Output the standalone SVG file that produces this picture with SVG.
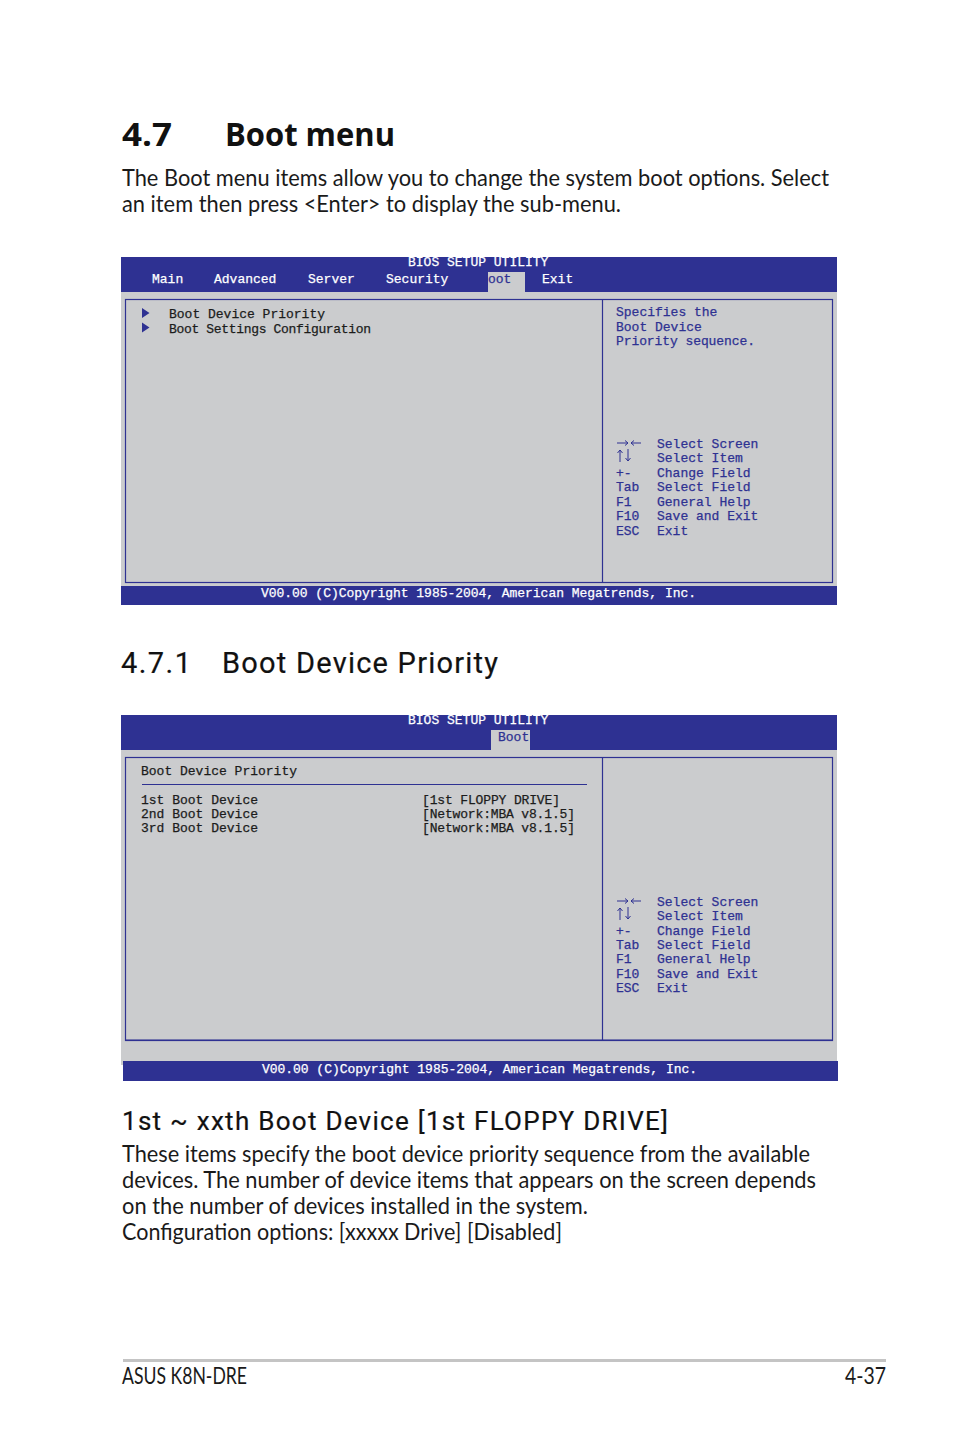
<svg xmlns="http://www.w3.org/2000/svg" width="954" height="1438" viewBox="0 0 954 1438">
<style>
.h1{font:700 32px "Open Sans","Noto Sans",sans-serif;fill:#111}
.h2{font:400 29px "Roboto","Noto Sans",sans-serif;fill:#111;stroke:#111;stroke-width:.2}
.h3{font:400 26px "Roboto","Noto Sans",sans-serif;fill:#111;stroke:#111;stroke-width:.2}
.b{font:400 22.5px "Lato","Noto Sans",sans-serif;fill:#1a1a1a}
.m{font:400 13px "Liberation Mono",monospace;stroke-width:.25}
.w{fill:#fff;stroke:#fff}.k{fill:#1c1c1c;stroke:#1c1c1c}.u{fill:#2e3192;stroke:#2e3192}
.blue{fill:#2e3192}.grey{fill:#cbccce}
.box{fill:none;stroke:#2e3192;stroke-width:1.2}
.a{fill:none;stroke:#2e3192;stroke-width:1}
</style>
<g id="page-text">
<text class="h1" x="122" y="146" textLength="50" lengthAdjust="spacingAndGlyphs">4.7</text>
<text class="h1" x="225" y="146" textLength="170" lengthAdjust="spacingAndGlyphs">Boot menu</text>
<text class="b" x="122" y="186" textLength="707" lengthAdjust="spacingAndGlyphs">The Boot menu items allow you to change the system boot options. Select</text>
<text class="b" x="122" y="212" textLength="499" lengthAdjust="spacingAndGlyphs">an item then press &lt;Enter&gt; to display the sub-menu.</text>
<text class="h2" x="121" y="673" textLength="70" lengthAdjust="spacing">4.7.1</text>
<text class="h2" x="222" y="673" textLength="276" lengthAdjust="spacing">Boot Device Priority</text>
<text class="h3" x="122" y="1130" textLength="546" lengthAdjust="spacing">1st ~ xxth Boot Device [1st FLOPPY DRIVE]</text>
<text class="b" x="122" y="1162" textLength="688" lengthAdjust="spacingAndGlyphs">These items specify the boot device priority sequence from the available</text>
<text class="b" x="122" y="1188" textLength="694" lengthAdjust="spacingAndGlyphs">devices. The number of device items that appears on the screen depends</text>
<text class="b" x="122" y="1214" textLength="466" lengthAdjust="spacingAndGlyphs">on the number of devices installed in the system.</text>
<text class="b" x="122" y="1240" textLength="440" lengthAdjust="spacingAndGlyphs">Configuration options: [xxxxx Drive] [Disabled]</text>
<text class="b" x="122" y="1384" textLength="125" lengthAdjust="spacingAndGlyphs">ASUS K8N-DRE</text>
<text class="b" x="845" y="1384" textLength="41" lengthAdjust="spacingAndGlyphs">4-37</text>
<rect x="123" y="1359" width="763" height="3" fill="#c4c4c4"/>
</g>
<g id="bios-1">
<rect class="grey" x="121" y="257" width="716" height="348"/>
<rect class="blue" x="121" y="257" width="716" height="35"/>
<rect class="grey" x="488" y="272" width="37" height="20"/>
<rect class="blue" x="121" y="586" width="716" height="19"/>
<rect class="box" x="125.500" y="299.500" width="707" height="283"/>
<line class="box" x1="602.500" y1="299" x2="602.500" y2="583"/>
<text class="m w" x="408" y="266">BIOS SETUP UTILITY</text>
<text class="m w" x="152" y="283">Main</text>
<text class="m w" x="214" y="283">Advanced</text>
<text class="m w" x="308" y="283">Server</text>
<text class="m w" x="386" y="283">Security</text>
<text class="m u" x="488" y="283">oot</text>
<text class="m w" x="542" y="283">Exit</text>
<path class="blue" d="M142 308l7.500 5-7.500 5zM142 322.500l7.500 5-7.500 5z"/>
<text class="m k" x="169" y="318">Boot Device Priority</text>
<text class="m k" x="169" y="333" textLength="202" lengthAdjust="spacing">Boot Settings Configuration</text>
<text class="m u" x="616" y="316">Specifies the</text>
<text class="m u" x="616" y="331">Boot Device</text>
<text class="m u" x="616" y="345" textLength="139" lengthAdjust="spacing">Priority sequence.</text>
<path class="a" d="M617 443h11m-3-2.500l3 2.500-3 2.500M641 443h-10m3-2.500l-3 2.500 3 2.500M620 462v-12m-2.500 3l2.500-3 2.500 3M628 449v12m-2.500-3l2.500 3 2.500-3"/>
<text class="m u" x="657" y="448">Select Screen</text>
<text class="m u" x="657" y="462">Select Item</text>
<text class="m u" x="616" y="477">+-</text><text class="m u" x="657" y="477">Change Field</text>
<text class="m u" x="616" y="491">Tab</text><text class="m u" x="657" y="491">Select Field</text>
<text class="m u" x="616" y="506">F1</text><text class="m u" x="657" y="506">General Help</text>
<text class="m u" x="616" y="520">F10</text><text class="m u" x="657" y="520">Save and Exit</text>
<text class="m u" x="616" y="535">ESC</text><text class="m u" x="657" y="535">Exit</text>
<text class="m w" x="261" y="597" textLength="435" lengthAdjust="spacing">V00.00 (C)Copyright 1985-2004, American Megatrends, Inc.</text>
</g>
<g id="bios-2">
<rect class="grey" x="121" y="715" width="716" height="350"/>
<rect class="blue" x="121" y="715" width="716" height="35"/>
<rect class="grey" x="491" y="730" width="39" height="20"/>
<rect class="blue" x="123" y="1061" width="715" height="20"/>
<rect class="box" x="125.500" y="757.500" width="707" height="283"/>
<line class="box" x1="125" y1="1040" x2="833" y2="1040"/>
<line class="box" x1="602.500" y1="757" x2="602.500" y2="1041"/>
<line class="box" x1="142" y1="784.500" x2="587" y2="784.500"/>
<text class="m w" x="408" y="724">BIOS SETUP UTILITY</text>
<text class="m u" x="498" y="741">Boot</text>
<text class="m k" x="141" y="775">Boot Device Priority</text>
<text class="m k" x="141" y="804">1st Boot Device</text>
<text class="m k" x="141" y="818">2nd Boot Device</text>
<text class="m k" x="141" y="832">3rd Boot Device</text>
<text class="m k" x="422" y="804" textLength="138" lengthAdjust="spacing">[1st FLOPPY DRIVE]</text>
<text class="m k" x="422" y="818" textLength="153" lengthAdjust="spacing">[Network:MBA v8.1.5]</text>
<text class="m k" x="422" y="832" textLength="153" lengthAdjust="spacing">[Network:MBA v8.1.5]</text>
<path class="a" d="M617 901h11m-3-2.500l3 2.500-3 2.500M641 901h-10m3-2.500l-3 2.500 3 2.500M620 920v-12m-2.500 3l2.500-3 2.500 3M628 907v12m-2.500-3l2.500 3 2.500-3"/>
<text class="m u" x="657" y="906">Select Screen</text>
<text class="m u" x="657" y="920">Select Item</text>
<text class="m u" x="616" y="935">+-</text><text class="m u" x="657" y="935">Change Field</text>
<text class="m u" x="616" y="949">Tab</text><text class="m u" x="657" y="949">Select Field</text>
<text class="m u" x="616" y="963">F1</text><text class="m u" x="657" y="963">General Help</text>
<text class="m u" x="616" y="978">F10</text><text class="m u" x="657" y="978">Save and Exit</text>
<text class="m u" x="616" y="992">ESC</text><text class="m u" x="657" y="992">Exit</text>
<text class="m w" x="262" y="1073" textLength="435" lengthAdjust="spacing">V00.00 (C)Copyright 1985-2004, American Megatrends, Inc.</text>
</g>
</svg>
